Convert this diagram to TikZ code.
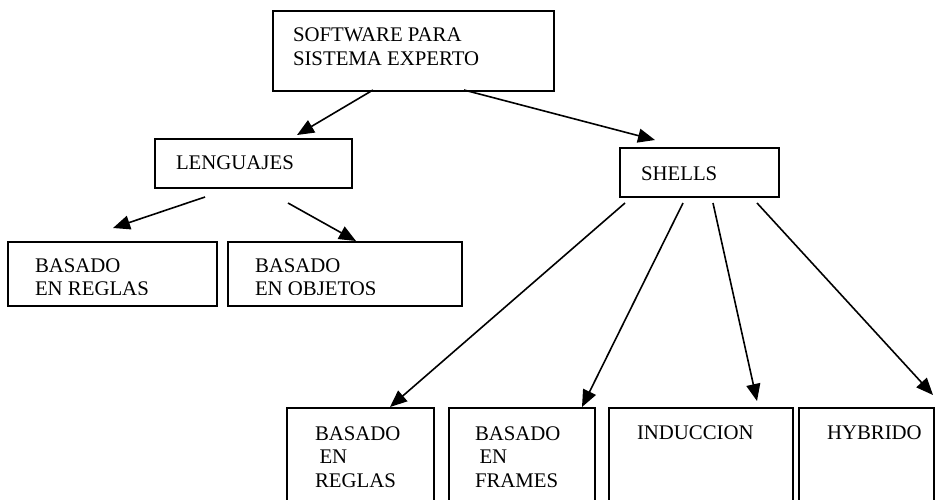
\documentclass[tikz,border=0pt]{standalone}
\usepackage{fontspec}
\setmainfont{Liberation Serif}
\usetikzlibrary{arrows.meta}

\tikzset{
  box/.style={draw=black, line width=2pt, rectangle, anchor=north west,
              inner sep=0pt, outer sep=0pt},
  label/.style={anchor=base west, inner sep=0pt, outer sep=0pt, align=left,
                font=\fontsize{20.8pt}{23.5pt}\selectfont},
  link/.style={line width=1.6pt, -{Triangle[length=17pt,width=14pt]}}
}

\begin{document}
\begin{tikzpicture}[x=1pt, y=-1pt]
  \fill[white] (0,0) rectangle (936,499);
  \clip (0,0) rectangle (936,499);

  % root and first level (label anchors sit on the last baseline)
  \node[box, minimum width=281pt, minimum height=80pt] (root) at (273,11) {};
  \node[label] (rootT) at (293,65) {SOFTWARE PARA\\SISTEMA EXPERTO};

  \node[box, minimum width=197pt, minimum height=49pt] (leng) at (155,139) {};
  \node[label] (lengT) at (176,169) {LENGUAJES};

  \node[box, minimum width=159pt, minimum height=49pt] (shells) at (620,148) {};
  \node[label] (shellsT) at (641,180) {SHELLS};

  % language branch
  \node[box, minimum width=209pt, minimum height=64pt] (lreg) at (8,242) {};
  \node[box, minimum width=234pt, minimum height=64pt] (lobj) at (228,242) {};
  \begin{scope}
    \clip (0,240) rectangle (936,294);
    \node[label] (lregT) at (35,295.5) {BASADO\\EN REGLAS};
    \node[label] (lobjT) at (255,295.5) {BASADO\\EN OBJETOS};
  \end{scope}

  % shell branch (boxes run past the lower edge)
  \node[box, minimum width=147pt, minimum height=110pt] (sreg) at (287,408) {};
  \node[box, minimum width=146pt, minimum height=110pt] (sfra) at (449,408) {};
  \node[box, minimum width=184pt, minimum height=110pt] (sind) at (609,408) {};
  \node[box, minimum width=135pt, minimum height=110pt] (shyb) at (799,408) {};

  \begin{scope}[every node/.append style={font=\fontsize{20.8pt}{24pt}\selectfont}]
    \node[label] (sregT) at (315,487) {BASADO\\\hspace*{4.5pt}EN\\REGLAS};
    \node[label] (sfraT) at (475,487) {BASADO\\\hspace*{4.5pt}EN\\FRAMES};
  \end{scope}
  \node[label] (sindT) at (637,439) {INDUCCION};
  \node[label] (shybT) at (827,439) {HYBRIDO};

  % connector ends
  \coordinate (rootL) at (373,90);
  \coordinate (rootR) at (464,90);
  \coordinate (lengIn) at (297,135);
  \coordinate (shellsIn) at (655,140);
  \coordinate (lengL) at (205,197);
  \coordinate (lengR) at (288,203);
  \coordinate (lregIn) at (113,228);
  \coordinate (lobjIn) at (356,241);
  \coordinate (sh1) at (625,203);
  \coordinate (sh2) at (683,203);
  \coordinate (sh3) at (713,203);
  \coordinate (sh4) at (757,203);
  \coordinate (sregIn) at (390,407);
  \coordinate (sfraIn) at (582,407);
  \coordinate (sindIn) at (757,401);
  \coordinate (shybIn) at (933,395);

  % connectors
  \draw[link] (rootL) -- (lengIn);
  \draw[link] (rootR) -- (shellsIn);
  \draw[link] (lengL) -- (lregIn);
  \draw[link] (lengR) -- (lobjIn);
  \draw[link] (sh1) -- (sregIn);
  \draw[link] (sh2) -- (sfraIn);
  \draw[link] (sh3) -- (sindIn);
  \draw[link] (sh4) -- (shybIn);
\end{tikzpicture}
\end{document}
